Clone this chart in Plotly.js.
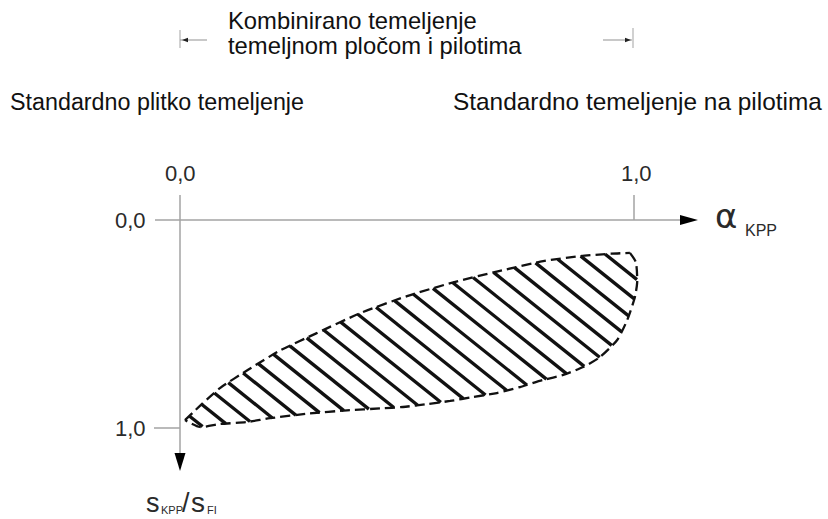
<!DOCTYPE html>
<html>
<head>
<meta charset="utf-8">
<script src="https://cdn.plot.ly/plotly-3.0.1.min.js"></script>
<style>html,body{margin:0;padding:0;background:#fff;}#chart{width:828px;height:519px;}</style>
</head>
<body>
<div id="chart"></div>
<script>
// ---- Data (x = alpha_KPP, y = s_KPP / s_FI) ----
const upperX = [0.011, 0.048, 0.088, 0.150, 0.220, 0.300, 0.400, 0.500, 0.600, 0.700, 0.800, 0.880, 0.950, 0.991];
const upperY = [0.962, 0.885, 0.808, 0.720, 0.628, 0.545, 0.445, 0.366, 0.301, 0.247, 0.198, 0.174, 0.162, 0.158];
const lowerX = [0.991, 1.004, 1.007, 1.002, 0.985, 0.963, 0.925, 0.888, 0.844, 0.800, 0.749, 0.698, 0.645, 0.595, 0.544, 0.491, 0.441, 0.368, 0.286, 0.198, 0.148, 0.088, 0.044, 0.011];
const lowerY = [0.158, 0.202, 0.300, 0.370, 0.481, 0.577, 0.659, 0.707, 0.745, 0.769, 0.803, 0.832, 0.851, 0.870, 0.885, 0.899, 0.906, 0.915, 0.930, 0.953, 0.971, 0.981, 0.995, 0.962];
const tickLabels = ['0,0', '1,0'];
const topTexts = ['Kombinirano temeljenje', 'temeljnom pločom i pilotima'];
const zoneTexts = ['Standardno plitko temeljenje', 'Standardno temeljenje na pilotima'];

// ---- Layout geometry ----
const W = 828, H = 519;
const OX = 180, OY = 220;      // pixel position of data origin
const SX = 454, SY = 208;      // pixels per data unit
const xr = [-OX / SX, (W - OX) / SX];
const yr = [(H - OY) / SY, -OY / SY];
const px2x = p => (p - OX) / SX;
const py2y = p => (p - OY) / SY;
const FONT = 'Liberation Sans, Arial, sans-serif';
const AXC = '#a3a3a3';

// ---- Hatching: parallel lines clipped to the region ----
const polyX = upperX.concat(lowerX.slice(1));
const polyY = upperY.concat(lowerY.slice(1));
const M = 0.8, DC = 21.5, C0 = -306; // slope (px), spacing (px), phase (px)
const hx = [], hy = [];
(function () {
  const P = polyX.map((x, i) => [x * SX, polyY[i] * SY]);
  const vs = P.map(p => p[1] - M * p[0]);
  const vmin = Math.min(...vs), vmax = Math.max(...vs);
  const k0 = Math.ceil((vmin - C0) / DC), k1 = Math.floor((vmax - C0) / DC);
  for (let k = k0; k <= k1; k++) {
    const c = C0 + k * DC;
    const pts = [];
    for (let i = 0; i < P.length; i++) {
      const a = P[i], b = P[(i + 1) % P.length];
      const va = vs[i], vb = vs[(i + 1) % P.length];
      if ((va - c) * (vb - c) < 0) {
        const t = (c - va) / (vb - va);
        pts.push([a[0] + t * (b[0] - a[0]), a[1] + t * (b[1] - a[1])]);
      }
    }
    pts.sort((p, q) => p[0] - q[0]);
    for (let j = 0; j + 1 < pts.length; j += 2) {
      hx.push(pts[j][0] / SX, pts[j + 1][0] / SX, null);
      hy.push(pts[j][1] / SY, pts[j + 1][1] / SY, null);
    }
  }
})();

const traces = [
  { x: hx, y: hy, mode: 'lines', line: { color: '#111', width: 3.3 }, hoverinfo: 'skip' },
  { x: upperX, y: upperY, mode: 'lines', line: { color: '#111', width: 2.3, dash: '10px,5px', shape: 'spline', smoothing: 0.6 }, hoverinfo: 'skip' },
  { x: lowerX, y: lowerY, mode: 'lines', line: { color: '#111', width: 2.3, dash: '10px,5px', shape: 'spline', smoothing: 0.6 }, hoverinfo: 'skip' }
];

const shapes = [
  // axes
  { type: 'line', xref: 'x', yref: 'y', x0: px2x(155), x1: px2x(684), y0: 0, y1: 0, line: { color: AXC, width: 1.5 } },
  { type: 'line', xref: 'x', yref: 'y', x0: 0, x1: 0, y0: py2y(195), y1: py2y(456), line: { color: AXC, width: 1.5 } },
  // ticks at 1
  { type: 'line', xref: 'x', yref: 'y', x0: 1, x1: 1, y0: py2y(195), y1: 0, line: { color: AXC, width: 1.5 } },
  { type: 'line', xref: 'x', yref: 'y', x0: px2x(154), x1: 0, y0: 1, y1: 1, line: { color: AXC, width: 1.5 } },
  // axis arrowheads
  { type: 'path', xref: 'x', yref: 'y', xsizemode: 'pixel', ysizemode: 'pixel', xanchor: px2x(698), yanchor: 0,
    path: 'M0,0 L-18,5 L-18,-5 Z', fillcolor: '#000', line: { width: 0 } },
  { type: 'path', xref: 'x', yref: 'y', xsizemode: 'pixel', ysizemode: 'pixel', xanchor: 0, yanchor: py2y(471),
    path: 'M0,0 L-5.5,18 L5.5,18 Z', fillcolor: '#000', line: { width: 0 } },
  // top dimension bracket
  { type: 'line', xref: 'x', yref: 'y', x0: 0, x1: 0, y0: py2y(30), y1: py2y(48), line: { color: AXC, width: 1 } },
  { type: 'line', xref: 'x', yref: 'y', x0: 0, x1: px2x(207), y0: py2y(40), y1: py2y(40), line: { color: AXC, width: 1.2 } },
  { type: 'path', xref: 'x', yref: 'y', xsizemode: 'pixel', ysizemode: 'pixel', xanchor: px2x(182), yanchor: py2y(40),
    path: 'M0,0 L6,2.2 L6,-2.2 Z', fillcolor: '#222', line: { width: 0 } },
  { type: 'line', xref: 'x', yref: 'y', x0: px2x(633), x1: px2x(633), y0: py2y(28), y1: py2y(48), line: { color: AXC, width: 1 } },
  { type: 'line', xref: 'x', yref: 'y', x0: px2x(603), x1: px2x(632), y0: py2y(40), y1: py2y(40), line: { color: AXC, width: 1.2 } },
  { type: 'path', xref: 'x', yref: 'y', xsizemode: 'pixel', ysizemode: 'pixel', xanchor: px2x(631), yanchor: py2y(40),
    path: 'M0,0 L-6,2.2 L-6,-2.2 Z', fillcolor: '#222', line: { width: 0 } }
];

function txt(text, xpx, ypx, size, anchor, color, family) {
  return { text: text, x: px2x(xpx), y: py2y(ypx), xref: 'x', yref: 'y', showarrow: false,
    xanchor: anchor || 'left', yanchor: 'middle', borderpad: 0,
    font: { family: family || FONT, size: size, color: color || '#111' } };
}

const annotations = [
  txt(topTexts[0], 227, 20.5, 23.8),
  txt(topTexts[1], 227, 45.5, 23.8),
  txt(zoneTexts[0], 9, 101.5, 23.3),
  txt(zoneTexts[1], 452, 101.5, 24.4),
  txt(tickLabels[0], 180, 173.5, 22, 'center', '#2a2a2a'),
  txt(tickLabels[1], 636, 173.5, 22, 'center', '#2a2a2a'),
  txt(tickLabels[0], 130, 220, 22, 'center', '#2a2a2a'),
  txt(tickLabels[1], 130, 428, 22, 'center', '#2a2a2a'),
  txt('α', 714, 216, 34, 'left', '#2a2a2a', 'DejaVu Sans, sans-serif'),
  txt('KPP', 744, 230.5, 16, 'left', '#2a2a2a'),
  txt('s', 145, 502.5, 27, 'left', '#2a2a2a'),
  txt('KPP', 160, 510, 11, 'left', '#2a2a2a'),
  txt('/', 181, 502.5, 27, 'left', '#2a2a2a'),
  txt('s', 190, 502.5, 28, 'left', '#2a2a2a'),
  txt('FI', 206, 510, 11, 'left', '#2a2a2a')
];

const layout = {
  width: W, height: H,
  margin: { l: 0, r: 0, t: 0, b: 0, pad: 0 },
  paper_bgcolor: '#fff', plot_bgcolor: '#fff',
  showlegend: false,
  xaxis: { range: xr, visible: false, fixedrange: true },
  yaxis: { range: yr, visible: false, fixedrange: true },
  shapes: shapes,
  annotations: annotations,
  hovermode: false
};

Plotly.newPlot('chart', traces, layout, { displayModeBar: false, staticPlot: true });
</script>
</body>
</html>
